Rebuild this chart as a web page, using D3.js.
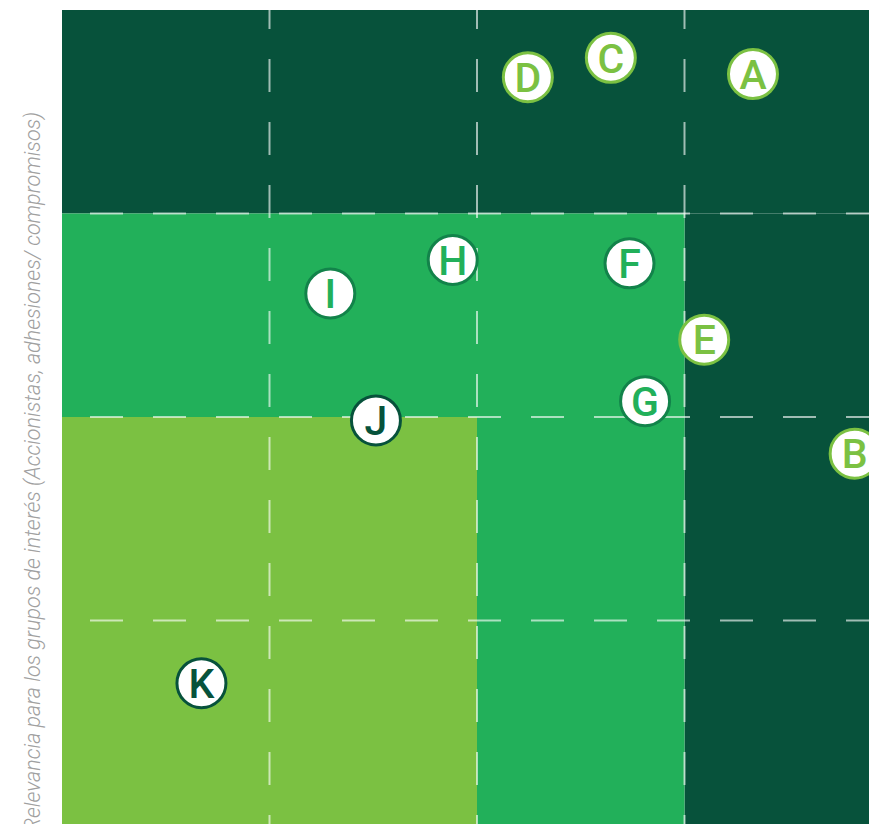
<!DOCTYPE html>
<html>
<head>
<meta charset="utf-8">
<script src="https://cdn.jsdelivr.net/npm/d3@7"></script>
<style>
  body { margin: 0; background: #ffffff; }
  svg { display: block; }
</style>
</head>
<body>
<div id="matrix"></div>
<script>
// materiality matrix values (0-4 on both axes)
var pointLabels = ["A", "B", "C", "D", "E", "F", "G", "H", "I", "J", "K"];
var pointX = [3.33, 3.82, 2.645, 2.245, 3.095, 2.735, 2.81, 1.883, 1.293, 1.513, 0.672];
var pointY = [3.685, 1.82, 3.765, 3.67, 2.38, 2.755, 2.078, 2.772, 2.607, 1.983, 0.692];
var pointLevel = ["alta", "alta", "alta", "alta", "alta", "media", "media", "media", "media", "baja", "baja"];

// background zones
var zoneLevel = ["alta", "alta", "media", "media", "baja"];
var zoneX = [[0, 4], [3, 4], [0, 3], [2, 3], [0, 2]];
var zoneY = [[3, 4], [0, 3], [2, 3], [0, 2], [0, 2]];

var gridTicks = [1, 2, 3];
var yTitle = "Relevancia para los grupos de interés (Accionistas, adhesiones/ compromisos)";

var width = 869,
  height = 824;

// set the ranges
var x = d3.scaleLinear().domain([0, 4]).range([62, 892]);
var y = d3.scaleLinear().domain([0, 4]).range([824, 10]);

var fill = d3.scaleOrdinal()
  .domain(["alta", "media", "baja"])
  .range(["#07523b", "#22b05a", "#7bc142"]);
var stroke = d3.scaleOrdinal()
  .domain(["alta", "media", "baja"])
  .range(["#7bc142", "#12834a", "#07523b"]);
var ink = d3.scaleOrdinal()
  .domain(["alta", "media", "baja"])
  .range(["#7bc142", "#22b05a", "#07523b"]);

var svg = d3.select("#matrix")
  .append("svg")
  .attr("width", width)
  .attr("height", height);

// zones
svg.append("g")
  .selectAll("rect")
  .data(zoneLevel)
  .enter()
  .append("rect")
  .attr("x", function (d, i) { return x(zoneX[i][0]); })
  .attr("width", function (d, i) { return x(zoneX[i][1]) - x(zoneX[i][0]); })
  .attr("y", function (d, i) { return y(zoneY[i][1]); })
  .attr("height", function (d, i) { return y(zoneY[i][0]) - y(zoneY[i][1]); })
  .attr("fill", function (d) { return fill(d); });

// dashed grid
var grid = svg.append("g")
  .attr("stroke", "#ffffff")
  .attr("stroke-opacity", 0.62)
  .attr("stroke-width", 2)
  .attr("stroke-dasharray", "33,30");

grid.selectAll(".vline")
  .data(gridTicks)
  .enter()
  .append("line")
  .attr("class", "vline")
  .attr("x1", function (d) { return x(d); })
  .attr("x2", function (d) { return x(d); })
  .attr("y1", y(4))
  .attr("y2", y(0))
  .attr("stroke-dashoffset", 14);

grid.selectAll(".hline")
  .data(gridTicks)
  .enter()
  .append("line")
  .attr("class", "hline")
  .attr("x1", x(0))
  .attr("x2", x(4))
  .attr("y1", function (d) { return y(d); })
  .attr("y2", function (d) { return y(d); })
  .attr("stroke-dashoffset", 35);

// points
var pt = svg.append("g")
  .selectAll("g")
  .data(pointLabels)
  .enter()
  .append("g")
  .attr("transform", function (d, i) {
    return "translate(" + x(pointX[i]) + "," + y(pointY[i]) + ")";
  });

pt.append("circle")
  .attr("r", 24.5)
  .attr("fill", "#ffffff")
  .attr("stroke", function (d, i) { return stroke(pointLevel[i]); })
  .attr("stroke-width", 3);

pt.append("text")
  .attr("text-anchor", "middle")
  .attr("dy", "0.36em")
  .style("font-family", "Roboto, sans-serif")
  .style("font-weight", 500)
  .style("font-size", "41px")
  .attr("fill", function (d, i) { return ink(pointLevel[i]); })
  .text(function (d) { return d; });

// y axis title
svg.append("text")
  .attr("transform", "translate(40,112) rotate(-90)")
  .attr("text-anchor", "end")
  .style("font-family", "Roboto, sans-serif")
  .style("font-weight", 300)
  .style("font-style", "italic")
  .style("font-size", "21.5px")
  .attr("fill", "#a0a0a0")
  .text(yTitle);
</script>
</body>
</html>
